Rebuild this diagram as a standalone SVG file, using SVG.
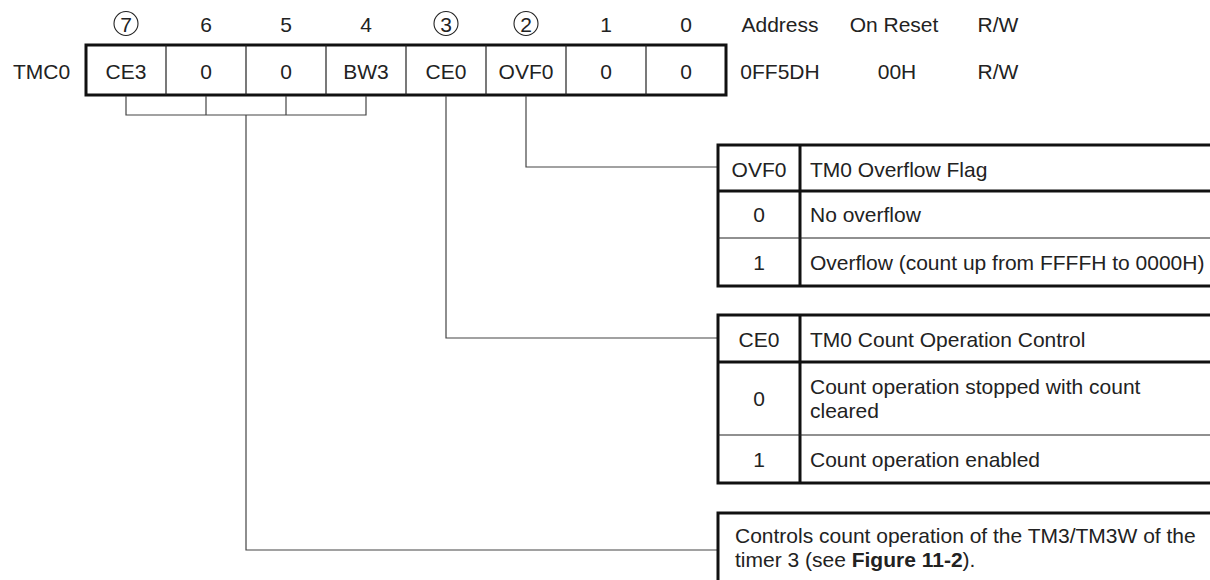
<svg xmlns="http://www.w3.org/2000/svg" width="1210" height="580" viewBox="0 0 1210 580">
  <style>
    text { font-family: "Liberation Sans", Arial, sans-serif; font-size: 21px; fill: #222; }
    .c { text-anchor: middle; }
    .b { font-weight: bold; }
    .thick { fill: none; stroke: #111; stroke-width: 3; }
    .thin { fill: none; stroke: #222; stroke-width: 1.2; }
    .wire { fill: none; stroke: #444; stroke-width: 1.2; }
    .ring { fill: none; stroke: #222; stroke-width: 1.1; }
  </style>
  <rect width="1210" height="580" fill="#fff"/>

  <!-- bit numbers and column headings -->
  <g id="bit-numbers">
    <circle class="ring" cx="126" cy="23.5" r="12"/>
    <text class="c" x="126" y="31.5">7</text>
    <text class="c" x="206" y="31.5">6</text>
    <text class="c" x="286" y="31.5">5</text>
    <text class="c" x="366" y="31.5">4</text>
    <circle class="ring" cx="446" cy="23.5" r="12"/>
    <text class="c" x="446" y="31.5">3</text>
    <circle class="ring" cx="526" cy="23.5" r="12"/>
    <text class="c" x="526" y="31.5">2</text>
    <text class="c" x="606" y="31.5">1</text>
    <text class="c" x="686" y="31.5">0</text>
    <text class="c" x="780" y="31.5">Address</text>
    <text class="c" x="894" y="31.5">On Reset</text>
    <text class="c" x="998" y="31.5">R/W</text>
  </g>

  <!-- register TMC0 -->
  <g id="register">
    <text x="13" y="79">TMC0</text>
    <rect class="thick" x="86" y="45" width="640" height="50"/>
    <path class="thin" d="M166 45V95M246 45V95M326 45V95M406 45V95M486 45V95M566 45V95M646 45V95"/>
    <text class="c" x="126" y="79">CE3</text>
    <text class="c" x="206" y="79">0</text>
    <text class="c" x="286" y="79">0</text>
    <text class="c" x="366" y="79">BW3</text>
    <text class="c" x="446" y="79">CE0</text>
    <text class="c" x="526" y="79">OVF0</text>
    <text class="c" x="606" y="79">0</text>
    <text class="c" x="686" y="79">0</text>
    <text class="c" x="780" y="79">0FF5DH</text>
    <text class="c" x="897" y="79">00H</text>
    <text class="c" x="998" y="79">R/W</text>
  </g>

  <!-- connectors -->
  <g id="connectors">
    <path class="wire" d="M126 96V115H366V96M206 96V115M286 96V115"/>
    <path class="wire" d="M246 115V550H718"/>
    <path class="wire" d="M446 96V338H718"/>
    <path class="wire" d="M526 96V167H718"/>
  </g>

  <!-- OVF0 table -->
  <g id="ovf0-table">
    <rect class="thick" x="718" y="145" width="520" height="141"/>
    <path class="thick" d="M800 145V286M718 191H1238"/>
    <path class="thin" d="M718 238H1238"/>
    <text class="c" x="759" y="177">OVF0</text>
    <text x="810" y="177">TM0 Overflow Flag</text>
    <text class="c" x="759" y="222">0</text>
    <text x="810" y="222">No overflow</text>
    <text class="c" x="759" y="269.5">1</text>
    <text x="810" y="269.5">Overflow (count up from FFFFH to 0000H)</text>
  </g>

  <!-- CE0 table -->
  <g id="ce0-table">
    <rect class="thick" x="718" y="315" width="520" height="168"/>
    <path class="thick" d="M800 315V483M718 362H1238"/>
    <path class="thin" d="M718 435H1238"/>
    <text class="c" x="759" y="347">CE0</text>
    <text x="810" y="347">TM0 Count Operation Control</text>
    <text class="c" x="759" y="406">0</text>
    <text x="810" y="394">Count operation stopped with count</text>
    <text x="810" y="418">cleared</text>
    <text class="c" x="759" y="466.5">1</text>
    <text x="810" y="466.5">Count operation enabled</text>
  </g>

  <!-- CE3/BW3 note -->
  <g id="timer3-note">
    <rect class="thick" x="718" y="513" width="520" height="100"/>
    <text x="735" y="543">Controls count operation of the TM3/TM3W of the</text>
    <text x="735" y="567">timer 3 (see <tspan class="b">Figure 11-2</tspan>).</text>
  </g>
</svg>
